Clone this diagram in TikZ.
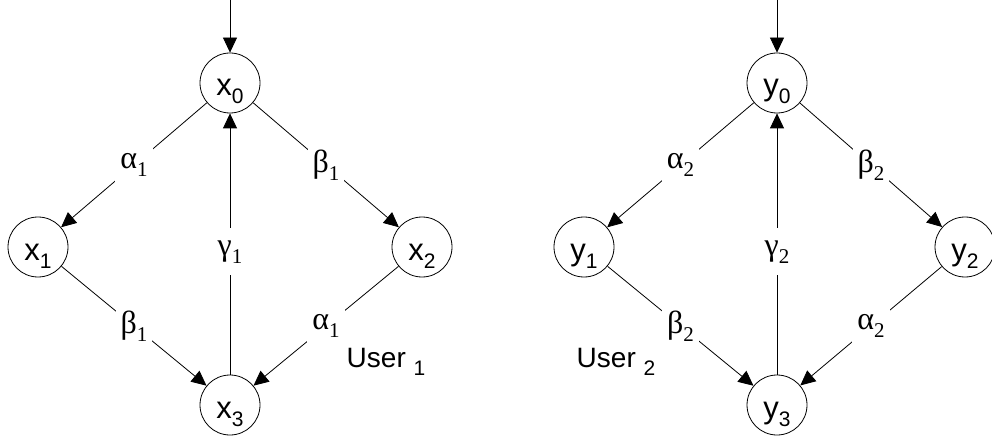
\documentclass[tikz,border=0pt]{standalone}
\usepackage{fontspec}
\setmainfont{Liberation Sans}
\newfontfamily\greekfont{Liberation Serif}
\usetikzlibrary{arrows.meta}

% lowered index, set apart from its letter
\newcommand{\lowsub}[1]{\raisebox{-8pt}{\fontsize{21}{21}\selectfont #1}}

\tikzset{
  state/.style={circle, draw, line width=0.8pt, minimum size=60pt, inner sep=0pt,
    text height=28pt, text depth=2pt, font=\fontsize{31}{31}\selectfont},
  link/.style={-{Triangle[length=15pt,width=14pt]}, line width=0.8pt},
  rate/.style={fill=white, inner xsep=5pt, inner ysep=12pt, font=\greekfont\fontsize{32}{32}\selectfont},
  owner/.style={font=\fontsize{28}{28}\selectfont},
}

\begin{document}
\begin{tikzpicture}[x=1pt, y=-1pt]
\useasboundingbox (0,0) rectangle (992,438);

% first user
\node[state] (x0) at (230,83) {x\lowsub{0}};
\node[state] (x1) at (38,247) {x\lowsub{1}};
\node[state] (x2) at (422,247) {x\lowsub{2}};
\node[state] (x3) at (230,405) {x\lowsub{3}};
\coordinate (xin) at (230,0);
\draw[link] (xin) -- (x0);
\draw[link] (x0) -- node[rate] {α\lowsub{1}} (x1);
\draw[link] (x0) -- node[rate] {β\lowsub{1}} (x2);
\draw[link] (x1) -- node[rate] {β\lowsub{1}} (x3);
\draw[link] (x2) -- node[rate] {α\lowsub{1}} (x3);
\draw[link] (x3) -- node[rate, pos=0.47] {γ\lowsub{1}} (x0);
\node[owner] (u1) at (386,362) {User \lowsub{1}};

% second user
\node[state] (y0) at (777,83) {y\lowsub{0}};
\node[state] (y1) at (584,247) {y\lowsub{1}};
\node[state] (y2) at (965,247) {y\lowsub{2}};
\node[state] (y3) at (777,405) {y\lowsub{3}};
\coordinate (yin) at (777,0);
\draw[link] (yin) -- (y0);
\draw[link] (y0) -- node[rate] {α\lowsub{2}} (y1);
\draw[link] (y0) -- node[rate] {β\lowsub{2}} (y2);
\draw[link] (y1) -- node[rate] {β\lowsub{2}} (y3);
\draw[link] (y2) -- node[rate] {α\lowsub{2}} (y3);
\draw[link] (y3) -- node[rate, pos=0.47] {γ\lowsub{2}} (y0);
\node[owner] (u2) at (616,362) {User \lowsub{2}};
\end{tikzpicture}
\end{document}
